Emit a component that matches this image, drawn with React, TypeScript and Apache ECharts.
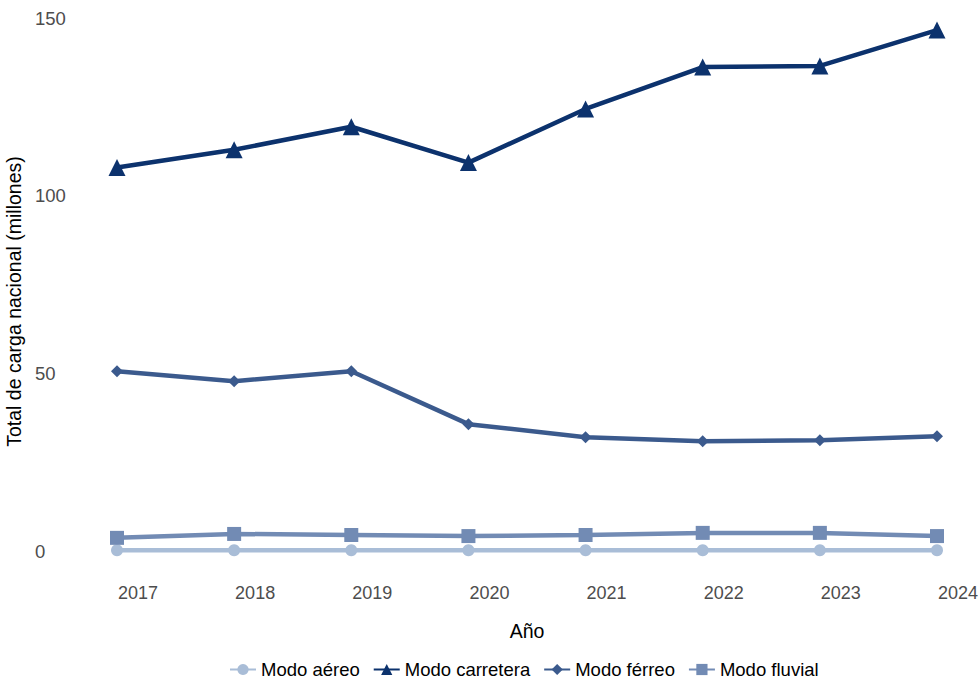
import React, { useEffect, useRef } from "react";
import * as echarts from "echarts";

const years = ["2017", "2018", "2019", "2020", "2021", "2022", "2023", "2024"];
const aereo = [0.2, 0.2, 0.2, 0.2, 0.2, 0.2, 0.2, 0.2];
const carretera = [107.9, 112.9, 119.4, 109.3, 124.4, 136.2, 136.5, 146.6];
const ferreo = [50.6, 47.8, 50.6, 35.7, 32.0, 30.9, 31.2, 32.3];
const fluvial = [3.7, 4.8, 4.5, 4.2, 4.5, 5.1, 5.1, 4.2];
const yTicks = [0, 50, 100, 150];

const FONT = "Liberation Sans, Arial, sans-serif";

export default function App() {
  const ref = useRef<HTMLDivElement>(null);

  useEffect(() => {
    if (!ref.current) return;
    const chart = echarts.init(ref.current, undefined, { renderer: "svg" });

    const mk = (name: string, data: number[], color: string, symbol: string, symbolSize: number, z: number) => ({
      name,
      type: "line",
      data,
      z,
      symbol,
      symbolSize,
      showSymbol: true,
      lineStyle: { color, width: 4.5 },
      itemStyle: { color },
      emphasis: { disabled: true },
    });

    chart.setOption({
      animation: false,
      textStyle: { fontFamily: FONT },
      grid: {
        left: 117,
        right: 42,
        top: 18,
        bottom: 133,
        containLabel: false,
        outerBoundsMode: "none",
      },
      xAxis: {
        type: "category",
        data: years,
        boundaryGap: false,
        axisLine: { show: false },
        axisTick: { show: false },
        splitLine: { show: false },
        axisLabel: {
          color: "#4d4d4d",
          fontSize: 18,
          fontFamily: FONT,
          margin: 33,
          padding: [0, 0, 0, 42],
        },
        name: "Año",
        nameLocation: "middle",
        nameGap: 70,
        nameTextStyle: { color: "#000", fontSize: 19.5, fontFamily: FONT },
      },
      yAxis: {
        type: "value",
        min: 0,
        max: 150,
        interval: 50,
        axisLine: { show: false },
        axisTick: { show: false },
        splitLine: { show: false },
        axisLabel: {
          color: "#4d4d4d",
          fontSize: 18.5,
          fontFamily: FONT,
          margin: 82,
          align: "left",
          formatter: (v: number) => (yTicks.includes(v) ? String(v) : ""),
        },
        name: "Total de carga nacional (millones)",
        nameLocation: "middle",
        nameGap: 85,
        nameTextStyle: { color: "#000", fontSize: 19.5, fontFamily: FONT, padding: [0, 34, 0, 0] },
      },
      legend: {
        bottom: 0,
        left: 224,
        itemWidth: 26,
        itemHeight: 14,
        itemGap: 13,
        textStyle: { color: "#000", fontSize: 18.5, fontFamily: FONT },
        data: ["Modo aéreo", "Modo carretera", "Modo férreo", "Modo fluvial"],
      },
      series: [
        mk("Modo aéreo", aereo, "#a9bdd7", "circle", 12, 2),
        mk("Modo carretera", carretera, "#0c326d", "triangle", 17, 4),
        mk("Modo férreo", ferreo, "#3b5a8d", "diamond", 12, 4),
        mk("Modo fluvial", fluvial, "#728bb4", "rect", 14, 3),
      ],
    });

    return () => chart.dispose();
  }, []);

  return <div ref={ref} style={{ width: 979, height: 684, position: "absolute", left: 0, top: 0 }} />;
}
